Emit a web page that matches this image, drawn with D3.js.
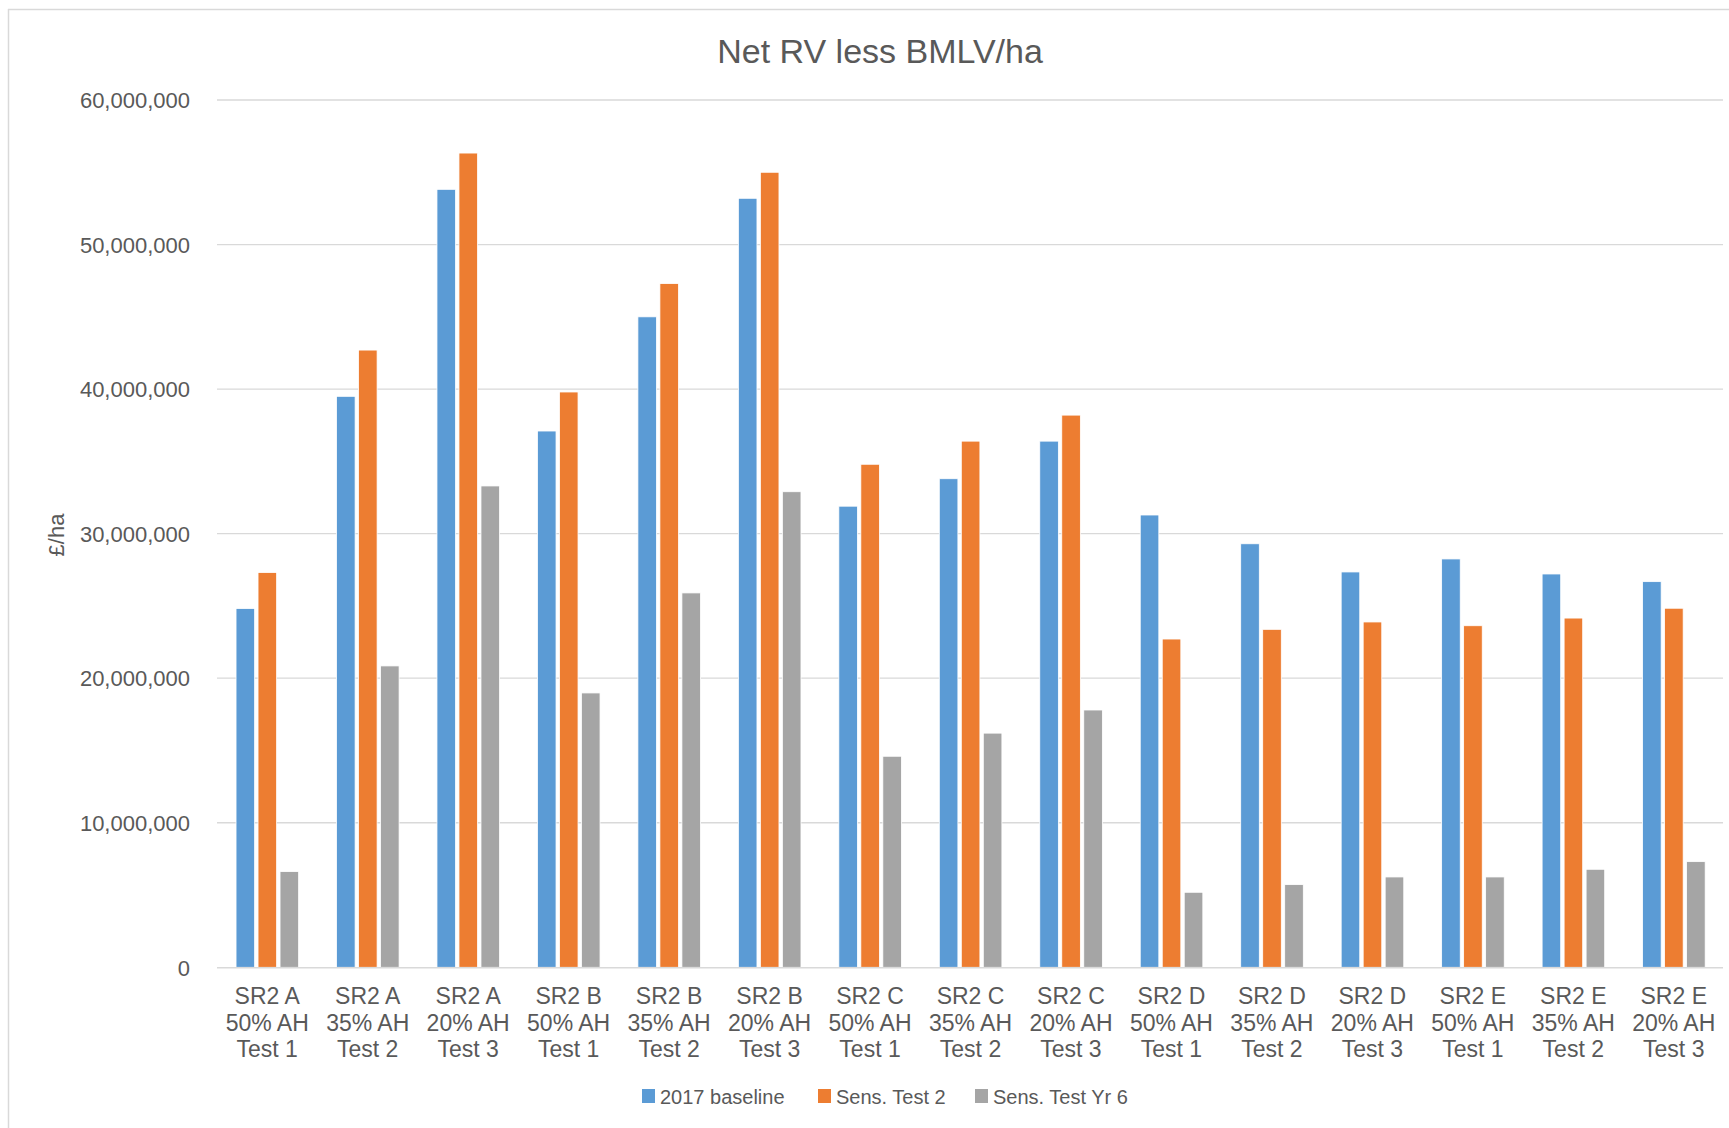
<!DOCTYPE html>
<html>
<head>
<meta charset="utf-8">
<script src="https://cdn.jsdelivr.net/npm/d3@7"></script>
<style>
  html, body { margin: 0; padding: 0; background: #fff; }
  svg { display: block; }
  text { font-family: "Liberation Sans", Arial, sans-serif; fill: #595959; }
</style>
</head>
<body>
<svg id="chart" width="1729" height="1128"></svg>
<script>
// Site typologies (three label lines each)
const categories = [
  "SR2 A|50% AH|Test 1", "SR2 A|35% AH|Test 2", "SR2 A|20% AH|Test 3",
  "SR2 B|50% AH|Test 1", "SR2 B|35% AH|Test 2", "SR2 B|20% AH|Test 3",
  "SR2 C|50% AH|Test 1", "SR2 C|35% AH|Test 2", "SR2 C|20% AH|Test 3",
  "SR2 D|50% AH|Test 1", "SR2 D|35% AH|Test 2", "SR2 D|20% AH|Test 3",
  "SR2 E|50% AH|Test 1", "SR2 E|35% AH|Test 2", "SR2 E|20% AH|Test 3"
];

const seriesNames = ["2017 baseline", "Sens. Test 2", "Sens. Test Yr 6"];
const seriesColors = ["#5B9BD5", "#ED7D31", "#A5A5A5"];

// Net RV less BMLV per hectare (£)
const baseline2017 = [24820000, 39500000, 53820000, 37100000, 45000000, 53200000, 31900000, 33800000, 36400000, 31290000, 29300000, 27350000, 28250000, 27210000, 26680000];
const sensTest2    = [27310000, 42700000, 56330000, 39800000, 47300000, 55000000, 34800000, 36400000, 38200000, 22710000, 23380000, 23890000, 23630000, 24160000, 24840000];
const sensTestYr6  = [6620000, 20850000, 33300000, 18980000, 25900000, 32900000, 14600000, 16200000, 17800000, 5190000, 5720000, 6250000, 6250000, 6780000, 7310000];

const yTicks = [0, 10000000, 20000000, 30000000, 40000000, 50000000, 60000000];

const seriesValues = [baseline2017, sensTest2, sensTestYr6];

const svg = d3.select("#chart");

// Chart frame
svg.append("line").attr("x1", 8.5).attr("x2", 8.5).attr("y1", 9).attr("y2", 1128)
  .attr("stroke", "#D9D9D9").attr("stroke-width", 1.5);
svg.append("line").attr("x1", 8).attr("x2", 1729).attr("y1", 9.5).attr("y2", 9.5)
  .attr("stroke", "#D9D9D9").attr("stroke-width", 1.5);

const x = d3.scaleBand().domain(categories).range([217, 1724]).padding(0);
const y = d3.scaleLinear().domain([0, 60000000]).range([967.3, 100]);
const x1 = d3.scaleBand().domain(seriesNames).range([-33, 33]).padding(0);

// Gridlines
svg.append("g").selectAll("line").data(yTicks.filter(d => d > 0)).join("line")
  .attr("x1", 217).attr("x2", 1723)
  .attr("y1", d => y(d)).attr("y2", d => y(d))
  .attr("stroke", "#D9D9D9").attr("stroke-width", 1.3);

// Y axis tick labels
const fmt = d3.format(",");
const yAxis = d3.axisLeft(y).tickValues(yTicks).tickFormat(d => fmt(d)).tickSize(0).tickPadding(0);
const yg = svg.append("g").attr("transform", "translate(190,0)").call(yAxis);
yg.select(".domain").remove();
yg.selectAll("text")
  .style("font-family", "'Liberation Sans', Arial, sans-serif")
  .style("font-size", "22px").attr("fill", "#595959").attr("dy", "0.35em");

// Bars
const groups = svg.append("g").selectAll("g").data(categories).join("g")
  .attr("transform", d => `translate(${x(d) + x.bandwidth() / 2},0)`);

groups.selectAll("rect")
  .data((d, i) => seriesNames.map((s, k) => ({ s, k, v: seriesValues[k][i] })))
  .join("rect")
  .attr("x", d => x1(d.s) + 1.8)
  .attr("width", x1.bandwidth() - 3.4)
  .attr("y", d => y(d.v))
  .attr("height", d => y(0) - y(d.v))
  .attr("fill", d => seriesColors[d.k])
  .attr("stroke", "#ffffff").attr("stroke-width", 0.8);

// Category axis line
svg.append("line").attr("x1", 217).attr("x2", 1723)
  .attr("y1", y(0) + 0.5).attr("y2", y(0) + 0.5)
  .attr("stroke", "#D9D9D9").attr("stroke-width", 1.6);

// Category labels
const xl = svg.append("g").selectAll("text").data(categories).join("text")
  .attr("text-anchor", "middle")
  .attr("x", d => x(d) + x.bandwidth() / 2)
  .attr("y", 1004)
  .style("font-size", "23px");
xl.selectAll("tspan").data(d => d.split("|")).join("tspan")
  .attr("x", function () { return d3.select(this.parentNode).attr("x"); })
  .attr("dy", (d, i) => i === 0 ? 0 : 26.5)
  .text(d => d);

// Title
svg.append("text").attr("x", 880).attr("y", 63).attr("text-anchor", "middle")
  .style("font-size", "34px").text("Net RV less BMLV/ha");

// Y axis title
svg.append("text").attr("transform", "translate(64,535) rotate(-90)")
  .attr("text-anchor", "middle").style("font-size", "22px").text("£/ha");

// Legend
const legendX = [642, 818, 975];
const lg = svg.append("g").selectAll("g").data(seriesNames).join("g")
  .attr("transform", (d, i) => `translate(${legendX[i]},1089)`);
lg.append("rect").attr("width", 13).attr("height", 14)
  .attr("fill", (d, i) => seriesColors[i]);
lg.append("text").attr("x", 18).attr("y", 14.5)
  .style("font-size", "20px").text(d => d);
</script>
</body>
</html>
